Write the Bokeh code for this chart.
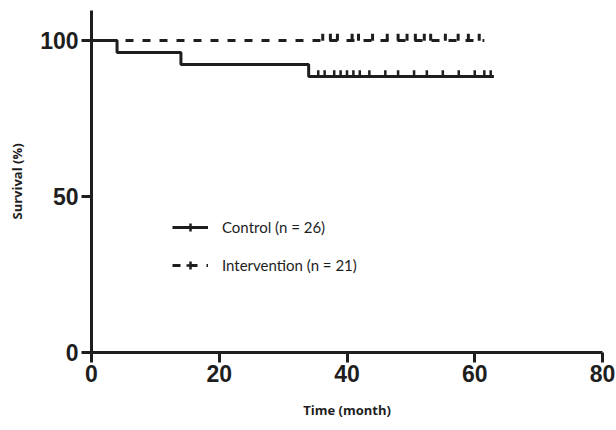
import numpy as np
from bokeh.plotting import figure
from bokeh.models import Range1d, Legend, LegendItem, ColumnDataSource, FixedTicker
from bokeh.core.properties import value
from bokeh.embed import file_html
from bokeh.resources import INLINE

# ---- data ----
ctrl_time = [0, 4, 14, 34, 63]
ctrl_surv = [100, 96.15, 92.31, 88.46, 88.46]
ctrl_censor = [35.5, 36.5, 38.0, 39.0, 40.0, 41.0, 42.0, 43.5, 46.0, 48.0,
               50.5, 52.5, 55.0, 57.5, 60.0, 61.5, 62.5]
int_time = [0, 61.5]
int_surv = [100, 100]
int_censor = [36.2, 37.4, 38.5, 40.8, 41.8, 44.0, 46.3, 48.0, 49.4, 50.7,
              52.1, 53.1, 55.4, 57.4, 59.0, 60.7]
x_ticks = [0, 20, 40, 60, 80]
y_ticks = [0, 50, 100]
labels = ["Control (n = 26)", "Intervention (n = 21)"]

INK = "#1e1e1e"


def surv_at(times, survs, t):
    idx = np.searchsorted(times, t, side="right") - 1
    return np.asarray(survs)[idx]


p = figure(width=616, height=430, output_backend="svg", toolbar_location=None,
           x_range=Range1d(0, 80), y_range=Range1d(0, 109.6),
           min_border_left=91, min_border_right=14, min_border_top=10,
           min_border_bottom=78)
p.xgrid.visible = False
p.ygrid.visible = False
p.outline_line_color = None

# curves
r_ctrl = p.step(ctrl_time, ctrl_surv, mode="after", line_color=INK, line_width=3)
r_int = p.line(int_time, int_surv, line_color=INK, line_width=3, line_dash="8 9")

TICK_OFF = 1.0
c_src = ColumnDataSource(dict(x=ctrl_censor,
                              y=surv_at(ctrl_time, ctrl_surv, ctrl_censor) + TICK_OFF))
i_src = ColumnDataSource(dict(x=int_censor,
                              y=surv_at(int_time, int_surv, int_censor) + TICK_OFF))
p.scatter("x", "y", source=c_src, marker="dash", angle=np.pi / 2, size=6,
          line_color=INK, line_width=2.5)
p.scatter("x", "y", source=i_src, marker="dash", angle=np.pi / 2, size=7,
          line_color=INK, line_width=3)

# legend-only censor glyphs (not drawn in the plot area)
r_lc = p.scatter(x=[np.nan], y=[np.nan], marker="cross", size=10,
                 line_color=INK, line_width=2.5)
r_li = p.scatter(x=[np.nan], y=[np.nan], marker="cross", size=10,
                 line_color=INK, line_width=2.5)

# axes
for ax in (p.xaxis[0], p.yaxis[0]):
    ax.axis_line_width = 3
    ax.axis_line_color = INK
    ax.major_tick_line_width = 3
    ax.major_tick_line_color = INK
    ax.major_tick_in = 0
    ax.major_tick_out = 10
    ax.minor_tick_line_color = None
    ax.major_label_text_font = "Liberation Sans"
    ax.major_label_text_font_style = "bold"
    ax.major_label_text_font_size = "23px"
    ax.major_label_text_color = INK
    ax.axis_label_text_font = "Open Sans"
    ax.axis_label_text_font_style = "bold"
    ax.axis_label_text_font_size = "13px"
    ax.axis_label_text_color = INK

p.xaxis.ticker = FixedTicker(ticks=x_ticks)
p.yaxis.ticker = FixedTicker(ticks=y_ticks)
p.xaxis.axis_label = "Time (month)"
p.yaxis.axis_label = "Survival (%)"
p.xaxis.major_label_standoff = 2
p.xaxis.axis_label_standoff = 16
p.yaxis.major_label_standoff = 3
p.yaxis.axis_label_standoff = 11

legend = Legend(items=[LegendItem(label=labels[0], renderers=[r_ctrl, r_lc]),
                       LegendItem(label=labels[1], renderers=[r_int, r_li])],
                location=(81, 77), glyph_width=36, glyph_height=20,
                label_height=20, spacing=18, padding=0, margin=0,
                label_standoff=14, border_line_color=None,
                background_fill_alpha=0)
legend.label_text_font = "Lato"
legend.label_text_font_size = "15px"
legend.label_text_color = INK
p.add_layout(legend)

open("out.html", "w").write(file_html(p, INLINE))
